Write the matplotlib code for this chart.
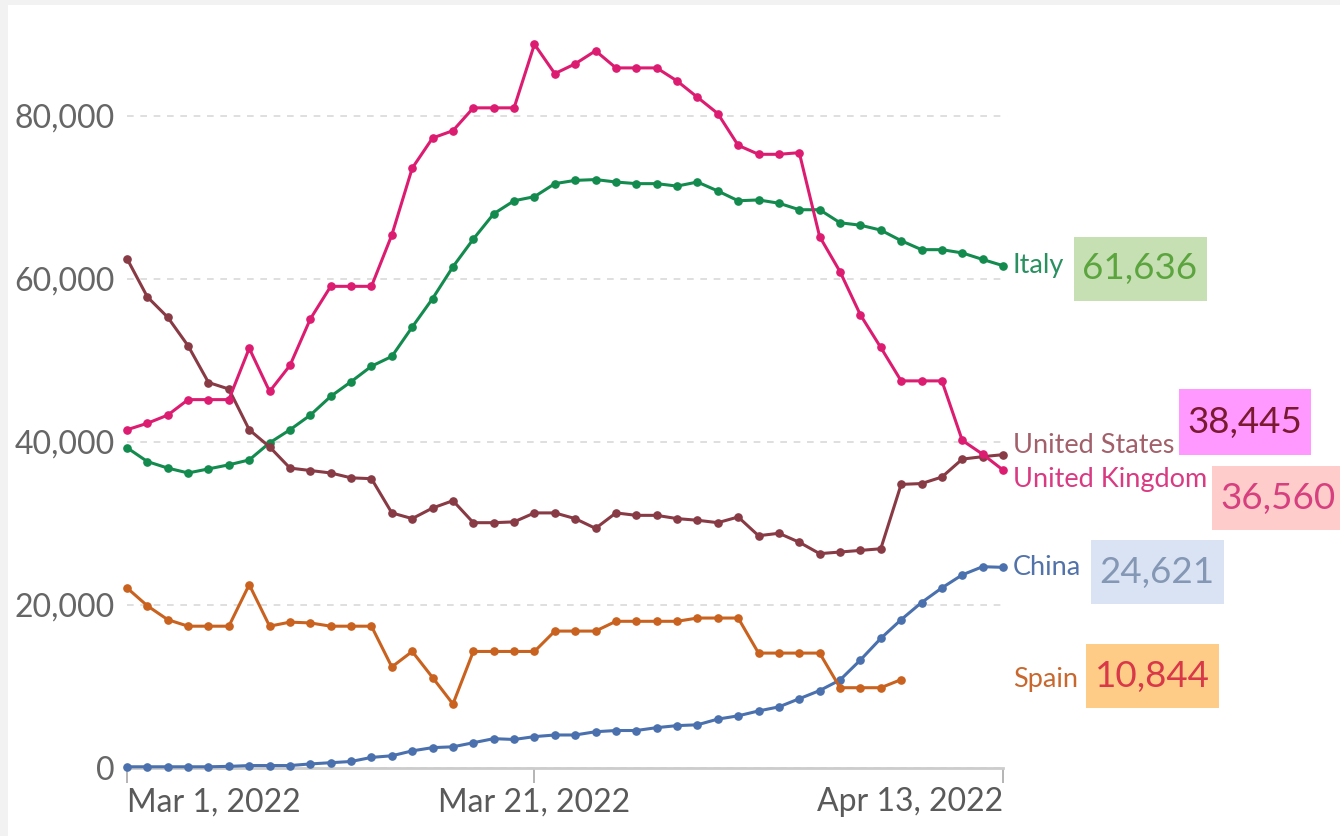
import matplotlib
matplotlib.use("Agg")
import matplotlib.pyplot as plt
import matplotlib.dates as mdates
from matplotlib.patches import Rectangle
import numpy as np

plt.rcParams['font.family'] = ['Lato', 'DejaVu Sans']

# daily values, Mar 1 .. Apr 13 2022 (thousands)
dates = np.arange(np.datetime64('2022-03-01'), np.datetime64('2022-04-14'))

italy = [39.3, 37.6, 36.8, 36.2, 36.7, 37.2, 37.8, 39.9, 41.5, 43.3,
         45.6, 47.4, 49.3, 50.5, 54.1, 57.6, 61.5, 64.9, 68.0, 69.6,
         70.1, 71.7, 72.1, 72.2, 71.9, 71.7, 71.7, 71.4, 71.9, 70.8,
         69.6, 69.7, 69.3, 68.5, 68.5, 66.9, 66.6, 66.0, 64.7, 63.6,
         63.6, 63.2, 62.4, 61.636]
us = [62.5, 57.8, 55.3, 51.8, 47.3, 46.5, 41.5, 39.4, 36.8, 36.5,
      36.2, 35.6, 35.5, 31.3, 30.6, 31.9, 32.8, 30.1, 30.1, 30.2,
      31.3, 31.3, 30.6, 29.4, 31.3, 31.0, 31.0, 30.6, 30.4, 30.1,
      30.8, 28.5, 28.8, 27.7, 26.3, 26.5, 26.7, 26.9, 34.8, 34.9,
      35.7, 37.9, 38.2, 38.445]
uk = [41.5, 42.3, 43.3, 45.2, 45.2, 45.2, 51.5, 46.2, 49.4, 55.1,
      59.1, 59.1, 59.1, 65.4, 73.6, 77.3, 78.2, 81.0, 81.0, 81.0,
      88.8, 85.2, 86.4, 88.0, 85.9, 85.9, 85.9, 84.3, 82.3, 80.3,
      76.4, 75.3, 75.3, 75.5, 65.2, 60.9, 55.6, 51.6, 47.5, 47.5,
      47.5, 40.2, 38.5, 36.56]
china = [0.15, 0.15, 0.15, 0.15, 0.15, 0.2, 0.3, 0.3, 0.3, 0.5,
         0.65, 0.8, 1.3, 1.5, 2.1, 2.5, 2.6, 3.1, 3.6, 3.5,
         3.85, 4.05, 4.05, 4.45, 4.6, 4.6, 4.95, 5.2, 5.3, 6.0,
         6.4, 7.0, 7.5, 8.5, 9.5, 10.8, 13.25, 15.9, 18.2, 20.3,
         22.1, 23.7, 24.7, 24.621]
spain = [22.1, 19.9, 18.2, 17.4, 17.4, 17.4, 22.5, 17.4, 17.9, 17.8,
         17.4, 17.4, 17.4, 12.4, 14.3, 11.1, 7.85, 14.3, 14.3, 14.3,
         14.3, 16.8, 16.8, 16.8, 18.0, 18.0, 18.0, 18.0, 18.4, 18.4,
         18.4, 14.1, 14.1, 14.1, 14.1, 9.85, 9.85, 9.85, 10.844]

names = ['Italy', 'United States', 'United Kingdom', 'China', 'Spain']
series = [italy, us, uk, china, spain]
latest = ['61,636', '38,445', '36,560', '24,621', '10,844']

yticks = [0, 20000, 40000, 60000, 80000]
xtick_dates = ['2022-03-01', '2022-03-21', '2022-04-13']
xtick_labels = ['Mar 1, 2022', 'Mar 21, 2022', 'Apr 13, 2022']

line_colors = ['#138a4e', '#883a45', '#dc1c70', '#4a70ad', '#c9611f']
label_colors = ['#2a9060', '#a2606a', '#d93a82', '#5273aa', '#c8682e']
label_dy = [0, 1100, -1100, 0, 0]  # label nudges in data units
box_face = ['#c6e0b4', '#ff99ff', '#ffcccc', '#dae3f3', '#ffcc88']
box_text = ['#5ca43e', '#7a1a30', '#d6407e', '#8497b4', '#d83848']
box_px = [(1074, 237, 133, 64), (1179, 389, 132, 66), (1212, 466, 140, 64),
          (1091, 540, 133, 64), (1086, 644, 133, 64)]

W, H = 1340, 836
fig = plt.figure(figsize=(W / 100, H / 100), dpi=100)
fig.patch.set_facecolor('#f2f2f2')
fig.patches.append(Rectangle((8 / W, 0), 1, 1 - 5 / H, transform=fig.transFigure,
                             facecolor='white', edgecolor='none', zorder=-5))

ax = fig.add_axes([127 / W, 68 / H, 876 / W, 733.5 / H])
ax.set_facecolor('none')
ax.set_zorder(2)

for vals, c in zip(series, line_colors):
    v = np.array(vals) * 1000
    ax.plot(dates[:len(v)], v, '-o', color=c, lw=2.2, ms=5.2,
            clip_on=False, zorder=3)

ax.set_xlim(dates[0], dates[-1])
ax.set_ylim(0, 90000)

ax.set_yticks(yticks)
ax.set_yticklabels(['{:,}'.format(t) for t in yticks])
ax.tick_params(axis='y', length=0, pad=9, labelsize=23, labelcolor='#666666')
ax.yaxis.grid(True, color='#d9d9d9', lw=1.2, linestyle=(0, (4, 4)))
ax.set_axisbelow(True)

xt = [mdates.date2num(np.datetime64(d)) for d in xtick_dates]
ax.set_xticks(xt)
ax.set_xticklabels(xtick_labels)
ax.tick_params(axis='x', length=11, width=1.2, color='#a8a8a8', pad=3,
               labelsize=23, labelcolor='#5a5a5a')
for lab, ha in zip(ax.get_xticklabels(), ['left', 'center', 'right']):
    lab.set_ha(ha)

for s in ['top', 'right', 'left']:
    ax.spines[s].set_visible(False)
ax.spines['bottom'].set_color('#cccccc')
ax.spines['bottom'].set_linewidth(2)

for name, vals, c, dy in zip(names, series, label_colors, label_dy):
    y = vals[-1] * 1000 + dy
    x = dates[len(vals) - 1] if name != 'Spain' else dates[-1]
    ax.annotate(name, (mdates.date2num(x), y), xytext=(7, 0),
                textcoords='offset points', va='center', ha='left',
                fontsize=19.5, color=c, annotation_clip=False)

for txt, fc, tc, (bx, by, bw, bh) in zip(latest, box_face, box_text, box_px):
    fig.patches.append(Rectangle((bx / W, 1 - (by + bh) / H), bw / W, bh / H,
                                 transform=fig.transFigure, facecolor=fc,
                                 edgecolor='none', zorder=1))
    cx = min(bx + bw / 2, bx + 66)
    fig.text(cx / W, 1 - (by + bh / 2) / H, txt, ha='center', va='center',
             fontsize=26.5, color=tc)

fig.savefig('out.png', dpi=100, facecolor=fig.get_facecolor())
